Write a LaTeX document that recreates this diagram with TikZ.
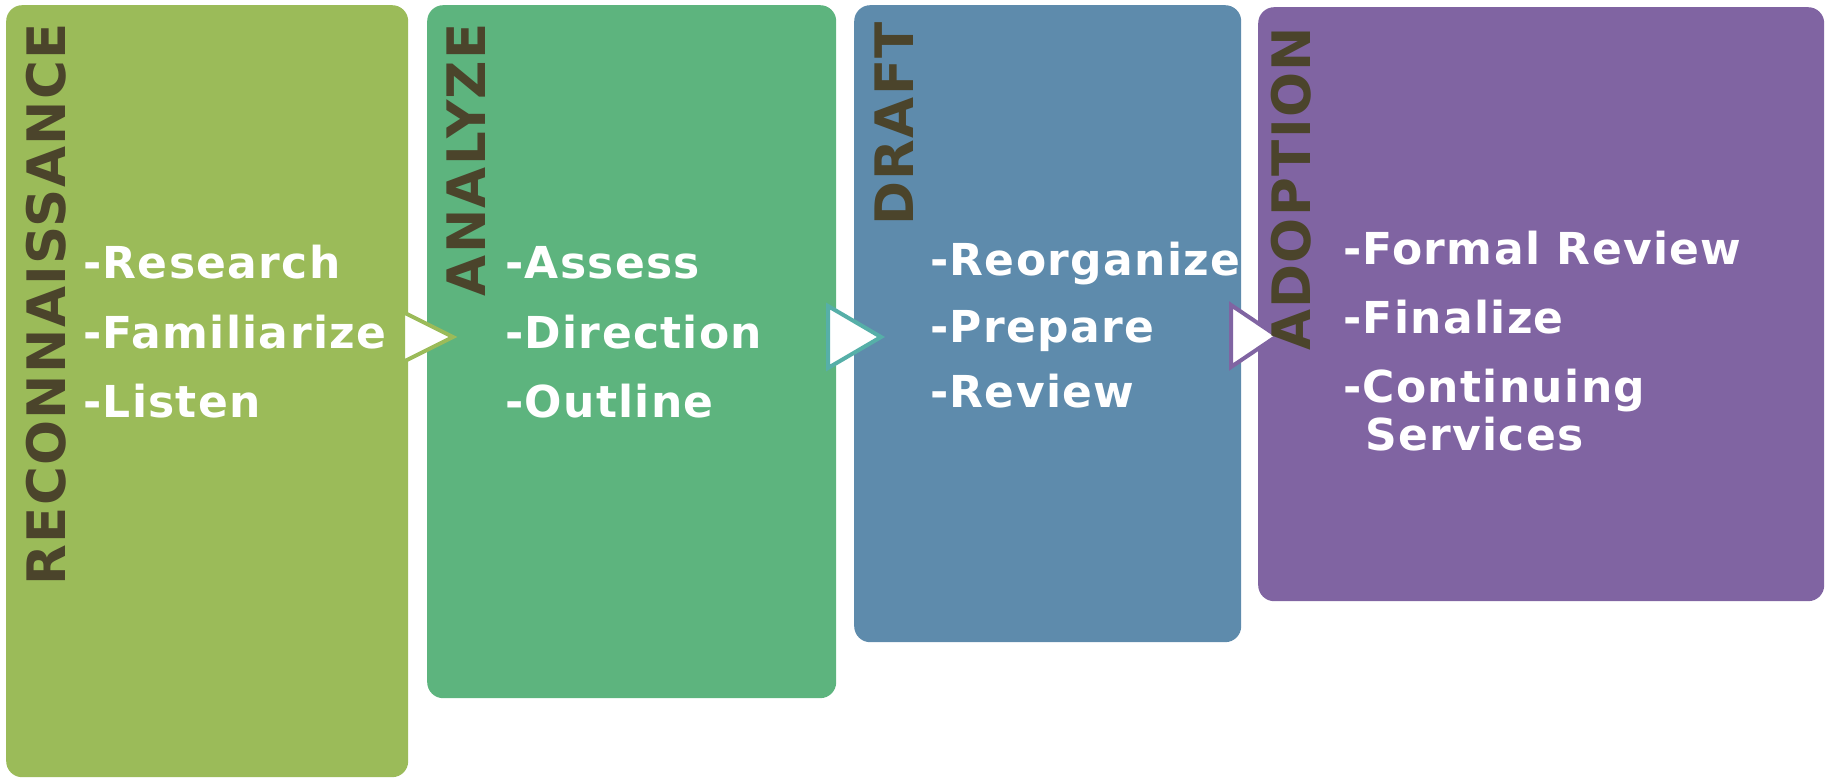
\documentclass[tikz,border=0pt]{standalone}
\usepackage{fontspec}
\setmainfont{DejaVu Sans}
\newfontfamily\itemfont{DejaVu Sans}[LetterSpace=3]
\newfontfamily\ttlfont{DejaVu Sans}[LetterSpace=2.5]
\definecolor{cA}{HTML}{9BBB59}
\definecolor{cB}{HTML}{5DB47E}
\definecolor{cC}{HTML}{5E8BAC}
\definecolor{cD}{HTML}{8064A2}
\definecolor{cTeal}{HTML}{56AFA8}
\definecolor{ttl}{HTML}{4B442B}
\tikzset{
  box/.style={anchor=north west, inner sep=0pt, rounded corners=16pt, draw=none},
  title/.style={rotate=90, anchor=base east, inner sep=0pt, text=ttl, font=\ttlfont\fontsize{53}{60}\selectfont\bfseries},
  item/.style={anchor=base west, inner sep=0pt, text=white, font=\itemfont\fontsize{44}{48}\selectfont\bfseries},
  tri/.style={fill=white, line width=4pt, line join=miter},
}
\begin{document}
\begin{tikzpicture}[x=1pt,y=-1pt]
\useasboundingbox (0,0) rectangle (1829,778);
% boxes
\node[box, fill=cA, minimum width=402pt, minimum height=772pt] (b1) at (6,5) {};
\node[box, fill=cB, minimum width=409pt, minimum height=693pt] (b2) at (427,5) {};
\node[box, fill=cC, minimum width=387pt, minimum height=637pt] (b3) at (854,5) {};
\node[box, fill=cD, minimum width=566pt, minimum height=594pt] (b4) at (1258,7) {};
% arrows
\draw[tri, draw=cA] (403,312) -- (453,337) -- (403,362) -- cycle;
\draw[tri, draw=cTeal] (828,306) -- (881,337) -- (828,368) -- cycle;
\draw[tri, draw=cD] (1231,305) -- (1277,336) -- (1231,367) -- cycle;
% titles
\node[title] (t1) at (65,23) {RECONNAISSANCE};
\node[title] (t2) at (485,23) {ANALYZE};
\node[title] (t3) at (913,22) {DRAFT};
\node[title] (t4) at (1310,27) {ADOPTION};
% items
\node[item] (i11) at (83,279) {-Research};
\node[item] (i12) at (83,348) {-Familiarize};
\node[item] (i13) at (83,417) {-Listen};
\node[item] (i21) at (505,279) {-Assess};
\node[item] (i22) at (505,348) {-Direction};
\node[item] (i23) at (505,417) {-Outline};
\node[item] (i31) at (930,276) {-Reorganize};
\node[item] (i32) at (930,342) {-Prepare};
\node[item] (i33) at (930,407) {-Review};
\node[item] (i41) at (1343,265) {-Formal Review};
\node[item] (i42) at (1343,333) {-Finalize};
\node[item] (i43) at (1343,402) {-Continuing};
\node[item] (i44) at (1365,450) {Services};
\end{tikzpicture}
\end{document}
